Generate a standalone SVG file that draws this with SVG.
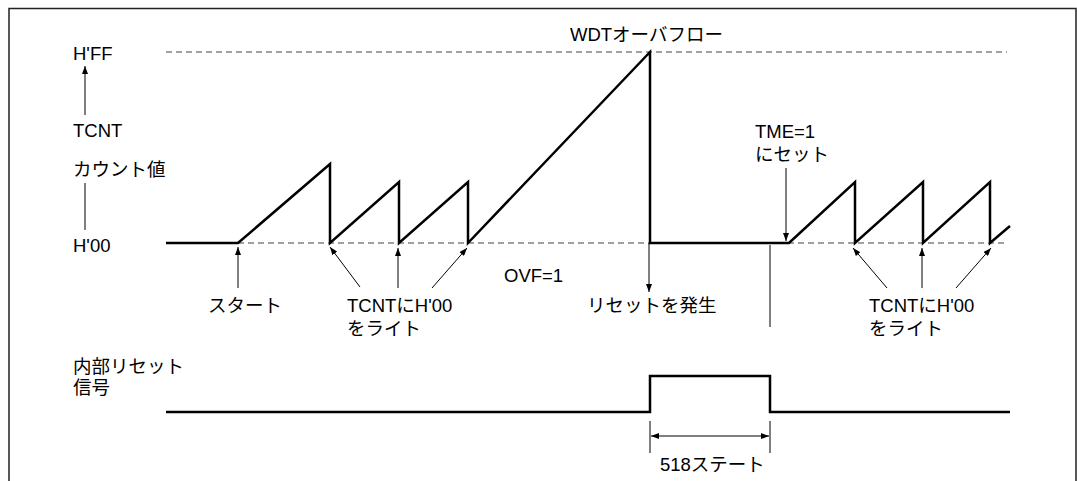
<svg xmlns="http://www.w3.org/2000/svg" width="1077" height="481" viewBox="0 0 1077 481">
<style>
text{font-family:"Liberation Sans","Noto Sans CJK JP",sans-serif;font-size:18.5px;fill:#000}
.w{fill:none;stroke:#000;stroke-width:2.5;stroke-linejoin:miter}
.d{fill:none;stroke:#444;stroke-width:1.2;stroke-dasharray:6 4}
.t{fill:none;stroke:#000;stroke-width:1}
.a{fill:none;stroke:#000;stroke-width:1;marker-end:url(#ah)}
.b{fill:none;stroke:#000;stroke-width:1;marker-start:url(#ah2);marker-end:url(#ah)}
</style>
<defs>
<marker id="ah" viewBox="0 0 8 6" refX="8" refY="3" markerWidth="8" markerHeight="6" markerUnits="userSpaceOnUse" orient="auto"><path d="M0,0 L8,3 L0,6 Z" fill="#000"/></marker>
<marker id="ah2" viewBox="0 0 8 6" refX="0" refY="3" markerWidth="8" markerHeight="6" markerUnits="userSpaceOnUse" orient="auto"><path d="M8,0 L0,3 L8,6 Z" fill="#000"/></marker>
</defs>
<rect width="1077" height="481" fill="#fff"/>
<path d="M9,481 V8.5 H1076 V481" fill="none" stroke="#222" stroke-width="1.5"/>

<g id="guides">
<line class="d" x1="166" y1="52" x2="1007" y2="52"/>
<line class="d" x1="238" y1="243" x2="1007" y2="243"/>
</g>

<g id="tcnt-waveform">
<polyline class="w" points="166,243 238,243 330,164 330,243 399,182 399,243 468,182 468,243 650,52 650,243 789,243 855,182 855,243 923,182 923,243 990,182 990,243 1010,226"/>
</g>

<g id="reset-waveform">
<polyline class="w" points="166,412 650,412 650,376 770,376 770,412 1010,412"/>
</g>

<g id="labels">
<text x="73" y="60">H'FF</text>
<text x="73" y="137">TCNT</text>
<text x="73" y="176">カウント値</text>
<text x="73" y="252">H'00</text>
<text x="570" y="41">WDTオーバフロー</text>
<text x="755" y="138">TME=1</text>
<text x="755" y="161">にセット</text>
<text x="208" y="312">スタート</text>
<text x="347" y="312">TCNTにH'00</text>
<text x="347" y="335">をライト</text>
<text x="504" y="282">OVF=1</text>
<text x="587" y="312">リセットを発生</text>
<text x="869" y="312">TCNTにH'00</text>
<text x="869" y="335">をライト</text>
<text x="73" y="373">内部リセット</text>
<text x="73" y="394">信号</text>
<text x="660" y="471">518ステート</text>
</g>

<g id="connectors">
<line class="a" x1="85" y1="115" x2="85" y2="66"/>
<line class="t" x1="85" y1="183" x2="85" y2="230"/>
<line class="a" x1="238" y1="288" x2="238" y2="247"/>
<line class="a" x1="360" y1="287" x2="330" y2="247"/>
<line class="a" x1="398" y1="288" x2="398" y2="248"/>
<line class="a" x1="432" y1="288" x2="467" y2="248"/>
<line class="a" x1="649" y1="243" x2="649" y2="292"/>
<line class="a" x1="786" y1="168" x2="786" y2="241"/>
<line class="t" x1="770" y1="245" x2="770" y2="327"/>
<line class="a" x1="887" y1="288" x2="853" y2="248"/>
<line class="a" x1="922" y1="288" x2="922" y2="248"/>
<line class="a" x1="956" y1="288" x2="991" y2="248"/>
<line class="t" x1="650" y1="421" x2="650" y2="453"/>
<line class="t" x1="770" y1="421" x2="770" y2="453"/>
<line class="b" x1="651" y1="436" x2="769" y2="436"/>
</g>
</svg>
